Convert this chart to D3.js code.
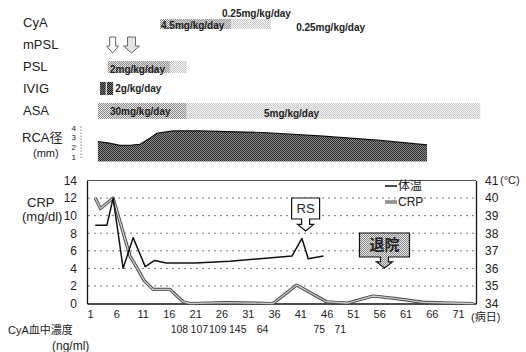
<!DOCTYPE html>
<html><head><meta charset="utf-8">
<script src="https://cdn.jsdelivr.net/npm/d3@7"></script>
<style>
body{margin:0;background:#fff}
svg{display:block}
text{font-family:Arial,"Liberation Sans","Noto Sans CJK JP",sans-serif;fill:#222}
</style>
</head><body>
<svg id="c" width="526" height="352"></svg>
<script>
// ---------- data ----------
const xTickDays = [1,6,11,16,21,26,31,36,41,46,51,56,61,66,71];
const crpTicks = [0,2,4,6,8,10,12,14];
const tempTicks = [34,35,36,37,38,39,40,41];
const rcaTicks = [1,2,3,4];

const crpDays = [2,3,5.4,8.6,10.2,11.3,13,16.2,18.7,20,27,35.8,40.3,46,50,54.8,59.3,62.4,64.3,69.4,74];
const crpVals = [12,10.8,12,5.4,3.8,2.6,1.6,1.6,0.2,0,0.1,0,2.1,0.2,0.05,0.85,0.55,0.3,0.15,0.05,0];

const tempDays = [2,4.2,5.4,7.3,9.2,11.5,13.3,15.5,21,27.6,33.3,39.4,41.3,42.5,45.4];
const tempVals = [38.45,38.45,40.0,36.0,37.75,36.1,36.45,36.3,36.3,36.4,36.55,36.7,37.7,36.55,36.7];

const rcaDays = [2.5,4.4,6.7,9.0,10.5,12.4,13.7,16.8,21.9,33.9,44.7,56.2,65.1];
const rcaVals = [2.55,2.42,2.16,2.2,2.28,2.9,3.42,3.66,3.66,3.5,3.14,2.68,2.21];

const cyaDays = [18,21.8,25.3,29.1,33.8,44.6,48.6];
const cyaConc = [108,107,109,145,64,75,71];

const rowNames = ["CyA","mPSL","PSL","IVIG","ASA"];
const barRows  = ["CyA","PSL","ASA"];
const barStart = [14.3,4.4,2.5];
const barMid   = [27.9,16.2,19.4];
const barEnd   = [35.4,19.4,75.2];

const ivigStart = [2.9,4.2];
const ivigEnd   = [4.0,5.4];
const mpslDays  = [5.3,8.9];

const doseRows  = ["CyA","CyA","CyA","PSL","IVIG","ASA","ASA"];
const doseDays  = [26.1,14.5,40.2,4.8,5.8,4.8,34.1];
const doseTexts = ["0.25mg/kg/day","4.5mg/kg/day","0.25mg/kg/day","2mg/kg/day","2g/kg/day","30mg/kg/day","5mg/kg/day"];
const doseShift = [-9,3,5,3,0,1,3];

const rsDay = 42, dischargeDay = 57;

// ---------- scales ----------
const svg = d3.select("#c");
const x = d3.scaleLinear().domain([0.43,74.4]).range([87,476]);
const yL = d3.scaleLinear().domain([0,14]).range([303.5,180.5]);
const yT = d3.scaleLinear().domain([34,41]).range([303.5,180.5]);
const rcaY = d3.scaleLinear().domain([0.5,4.5]).range([161.5,122.8]);
const rowY = d3.scalePoint().domain(rowNames).range([22,110]);

// ---------- patterns ----------
const defs = svg.append("defs");
function checker(id,a,b){
  const p = defs.append("pattern").attr("id",id).attr("width",2).attr("height",2).attr("patternUnits","userSpaceOnUse");
  p.append("rect").attr("width",2).attr("height",2).attr("fill",b);
  p.append("rect").attr("width",1).attr("height",1).attr("fill",a);
  p.append("rect").attr("x",1).attr("y",1).attr("width",1).attr("height",1).attr("fill",a);
}
checker("dark","#2a2a2a","#8c8c8c");
checker("mid","#8e8e8e","#e2e2e2");
checker("light","#c8c8c8","#f6f6f6");
checker("ivig","#222","#777");

// ---------- row labels ----------
svg.selectAll("text.row").data(rowNames).join("text")
  .attr("x",23).attr("y",d=>rowY(d)).attr("dy","0.35em")
  .attr("font-size",13).text(d=>d);

// bars
const barH = {CyA:10,PSL:12,ASA:16};
const barC = {CyA:2,PSL:1,ASA:1};
barRows.forEach((r,i)=>{
  const yc = rowY(r)+barC[r], h = barH[r];
  svg.append("rect").attr("x",x(barStart[i])).attr("y",yc-h/2)
    .attr("width",x(barMid[i])-x(barStart[i])).attr("height",h).attr("fill","url(#mid)");
  svg.append("rect").attr("x",x(barMid[i])).attr("y",yc-h/2)
    .attr("width",x(barEnd[i])-x(barMid[i])).attr("height",h).attr("fill","url(#light)");
});
// IVIG bars
ivigStart.forEach((s,i)=>{
  svg.append("rect").attr("x",x(s)).attr("y",rowY("IVIG")-6)
    .attr("width",x(ivigEnd[i])-x(s)).attr("height",13).attr("fill","url(#ivig)");
});
// mPSL arrows
mpslDays.forEach((d,i)=>{
  const cx = x(d), t = rowY("mPSL")-7, w = i===0?3:4, hw = i===0?6:8;
  const p = `M${cx-w},${t} H${cx+w} V${t+9} H${cx+hw} L${cx},${t+16} L${cx-hw},${t+9} H${cx-w} Z`;
  svg.append("path").attr("d",p).attr("fill",i===0?"#fff":"#e4e4e4")
    .attr("stroke","#666").attr("stroke-width",1);
});
// dose labels
doseTexts.forEach((t,i)=>{
  svg.append("text").attr("x",x(doseDays[i])).attr("y",rowY(doseRows[i])+doseShift[i])
    .attr("dy","0.35em").attr("font-size",10).attr("font-weight","bold")
    .attr("fill","#1a1a1a").text(t);
});

// ---------- RCA ----------
svg.append("text").attr("x",22).attr("y",142).attr("font-size",13).text("RCA径");
svg.append("text").attr("x",33).attr("y",157).attr("font-size",11).text("(mm)");
const rcaAxis = svg.append("g").attr("transform","translate(81,0)")
  .call(d3.axisLeft(rcaY).tickValues(rcaTicks).tickSize(0).tickPadding(5).tickFormat(d3.format("d")));
rcaAxis.select(".domain").remove();
rcaAxis.selectAll("text").attr("font-size",8).attr("font-family","Arial");
svg.append("line").attr("x1",81).attr("x2",81).attr("y1",rcaY(4.1)).attr("y2",rcaY(0.85))
  .attr("stroke","#444").attr("stroke-dasharray","1,2");
const rcaData = rcaDays.map((d,i)=>[d,rcaVals[i]]);
svg.append("path").datum(rcaData)
  .attr("d",d3.area().x(d=>x(d[0])).y0(rcaY(0.5)).y1(d=>rcaY(d[1])))
  .attr("fill","url(#dark)");
svg.append("path").datum(rcaData)
  .attr("d",d3.line().x(d=>x(d[0])).y(d=>rcaY(d[1])))
  .attr("fill","none").attr("stroke","#111").attr("stroke-width",1.2);

// ---------- main plot ----------
svg.selectAll("line.grid").data(crpTicks.filter(v=>v>0&&v<14)).join("line")
  .attr("x1",88).attr("x2",475).attr("y1",d=>yL(d)).attr("y2",d=>yL(d))
  .attr("stroke","#777").attr("stroke-dasharray","2,4");
svg.append("line").attr("x1",87).attr("x2",476).attr("y1",yL(14)).attr("y2",yL(14))
  .attr("stroke","#555").attr("stroke-width",1);

const la = svg.append("g").attr("transform","translate(87,0)")
  .call(d3.axisLeft(yL).tickValues(crpTicks).tickSize(0).tickSizeOuter(0).tickPadding(10).tickFormat(d3.format("d")));
const ra = svg.append("g").attr("transform","translate(476,0)")
  .call(d3.axisRight(yT).tickValues(tempTicks).tickSize(0).tickSizeOuter(0).tickPadding(9).tickFormat(d3.format("d")));
const ba = svg.append("g").attr("transform",`translate(0,${yL(0)})`)
  .call(d3.axisBottom(x).tickValues(xTickDays).tickSize(0).tickSizeOuter(0).tickPadding(7).tickFormat(d3.format("d")));
[la,ra,ba].forEach(g=>{
  g.select(".domain").attr("stroke","#111").attr("stroke-width",1.3);
  g.selectAll("text").attr("font-family","Arial").attr("fill","#222");
});
la.selectAll("text").attr("font-size",12);
ra.selectAll("text").attr("font-size",12);
ba.selectAll("text").attr("font-size",11);

svg.append("text").attr("x",500).attr("y",yT(41)).attr("dy","0.35em").attr("font-size",11).text("(°C)");
svg.append("text").attr("x",471).attr("y",yL(0)+17).attr("font-size",11).text("(病日)");
svg.append("text").attr("x",27).attr("y",207).attr("font-size",13).text("CRP");
svg.append("text").attr("x",22).attr("y",221).attr("font-size",13).text("(mg/dl)");

// CRP line (gray double line)
const crpData = crpDays.map((d,i)=>[d,crpVals[i]]);
const crpLine = d3.line().x(d=>x(d[0])).y(d=>yL(d[1]));
svg.append("path").datum(crpData).attr("d",crpLine).attr("fill","none")
  .attr("stroke","#444").attr("stroke-width",3.2).attr("stroke-linejoin","round");
svg.append("path").datum(crpData).attr("d",crpLine).attr("fill","none")
  .attr("stroke","#c8c8c8").attr("stroke-width",1.4).attr("stroke-linejoin","round");

// temperature line
const tempData = tempDays.map((d,i)=>[d,tempVals[i]]);
svg.append("path").datum(tempData)
  .attr("d",d3.line().x(d=>x(d[0])).y(d=>yT(d[1])))
  .attr("fill","none").attr("stroke","#111").attr("stroke-width",1.5).attr("stroke-linejoin","round");

// legend
svg.append("line").attr("x1",385).attr("x2",397).attr("y1",186).attr("y2",186).attr("stroke","#111").attr("stroke-width",1.5);
svg.append("text").attr("x",398).attr("y",186).attr("dy","0.35em").attr("font-size",12).text("体温");
svg.append("line").attr("x1",385).attr("x2",397).attr("y1",202).attr("y2",202).attr("stroke","#444").attr("stroke-width",3);
svg.append("line").attr("x1",385).attr("x2",397).attr("y1",202).attr("y2",202).attr("stroke","#c8c8c8").attr("stroke-width",1.2);
svg.append("text").attr("x",398).attr("y",202).attr("dy","0.35em").attr("font-size",12).text("CRP");

// callouts
function callout(cx, top, w, h, tip, fill, label, fs){
  const l = cx-w/2, r = cx+w/2, b = top+h, mid = b+(tip-b)*0.45;
  const p = `M${l},${top} H${r} V${b} H${cx+4} V${mid} H${cx+8} L${cx},${tip} L${cx-8},${mid} H${cx-4} V${b} H${l} Z`;
  svg.append("path").attr("d",p).attr("fill",fill).attr("stroke","#111").attr("stroke-width",1.2);
  svg.append("text").attr("x",cx).attr("y",top+h/2).attr("dy","0.36em").attr("text-anchor","middle")
    .attr("font-size",fs).attr("font-weight",fill==="#fff"?"normal":"bold").text(label);
}
callout(x(rsDay), 198, 28, 21, 231, "#fff", "RS", 13);
callout(x(dischargeDay), 233, 50, 24, 268, "url(#mid)", "退院", 15);

// CyA concentrations
svg.selectAll("text.conc").data(cyaConc).join("text")
  .attr("x",(d,i)=>x(cyaDays[i])).attr("y",333).attr("text-anchor","middle")
  .attr("font-size",10.5).text(d=>d);
svg.append("text").attr("x",8).attr("y",334).attr("font-size",11).text("CyA血中濃度");
svg.append("text").attr("x",52).attr("y",350).attr("font-size",12).text("(ng/ml)");
</script>
</body></html>
